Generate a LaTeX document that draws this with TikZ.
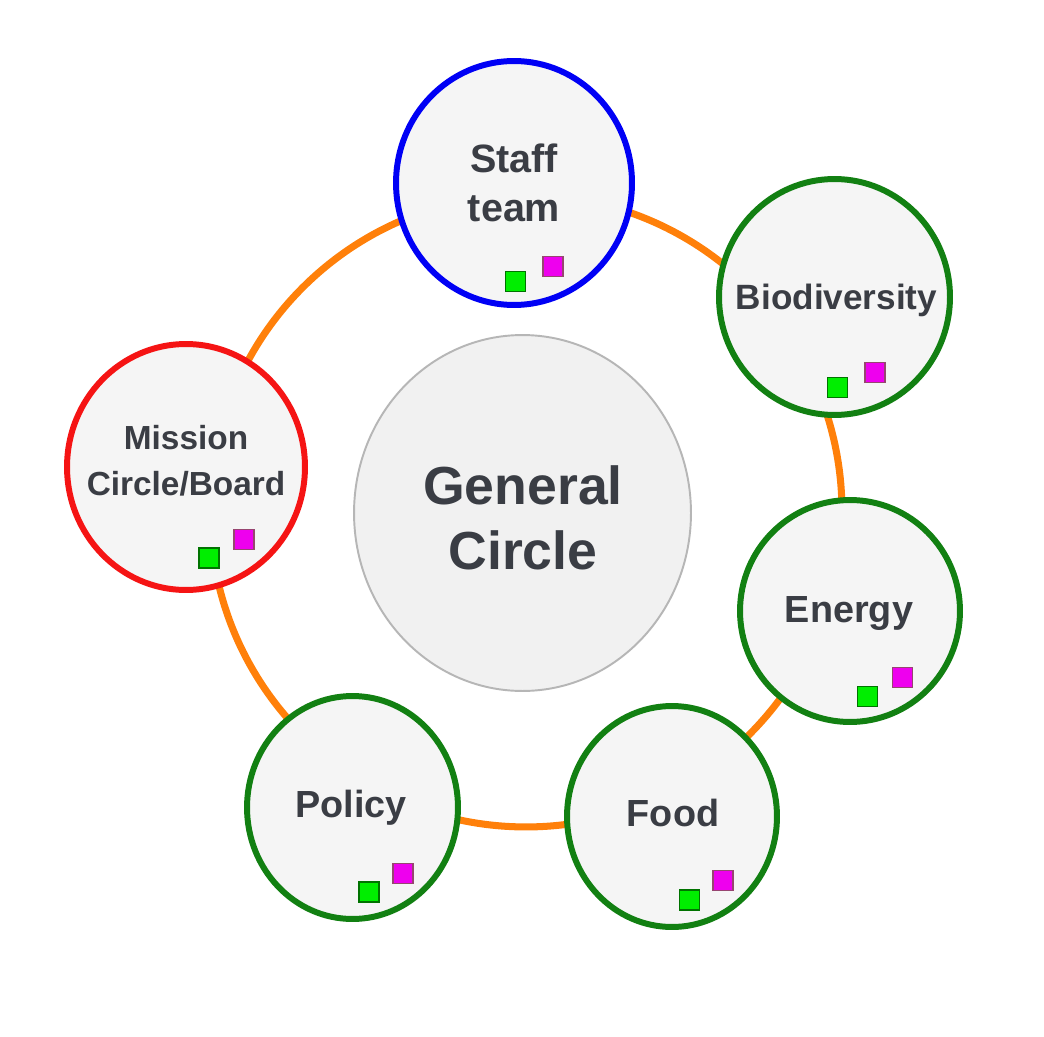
\documentclass[tikz,border=0pt]{standalone}
\usepackage{fontspec}
\setmainfont{Liberation Sans}
\usetikzlibrary{shapes.geometric}
\definecolor{ringOrange}{RGB}{255,128,10}
\definecolor{unitGreen}{RGB}{18,128,18}
\definecolor{unitBlue}{RGB}{0,0,245}
\definecolor{unitRed}{RGB}{245,20,20}
\definecolor{textGray}{RGB}{58,61,68}
\definecolor{fillGray}{RGB}{245,245,245}
\definecolor{genFill}{RGB}{241,241,241}
\definecolor{genLine}{RGB}{182,182,182}
\definecolor{tagGreen}{RGB}{0,238,0}
\definecolor{tagMagenta}{RGB}{238,0,238}

\begin{document}
\begin{tikzpicture}[x=0.02cm,y=-0.02cm,
  unit/.style={ellipse,fill=fillGray,line width=3.4pt,inner sep=0pt},
  lbl/.style={anchor=south,inner sep=0pt,text depth=0pt,align=center,text=textGray},
  sq/.style={rectangle,minimum size=0.4cm,inner sep=0pt,line width=0.6pt},
  gtag/.style={sq,fill=tagGreen,draw=green!45!black},
  mtag/.style={sq,fill=tagMagenta,draw=magenta!55!black}]
  \fill[white] (0,0) rectangle (1044,1037);
  \useasboundingbox (0,0) rectangle (1044,1037);
  % orange ring behind everything
  \coordinate (hub) at (526,511);
  \draw[ringOrange,line width=4pt] (hub) circle (6.32cm);
  % centre
  \node[ellipse,fill=genFill,draw=genLine,line width=1.1pt,
    minimum width=6.74cm,minimum height=7.12cm] (gen) at (522.5,513) {};
  \node[lbl,font={\bfseries\fontsize{30.5}{36.8}\selectfont}] (gen-t) at (523,570) {General\\Circle};
  % circles round the ring
  \node[unit,draw=unitBlue,minimum width=4.72cm,minimum height=4.88cm] (staff) at (514,183) {};
  \node[unit,draw=unitGreen,minimum width=4.62cm,minimum height=4.72cm] (bio) at (834.5,297) {};
  \node[unit,draw=unitGreen,minimum width=4.40cm,minimum height=4.44cm] (energy) at (850,611) {};
  \node[unit,draw=unitGreen,minimum width=4.20cm,minimum height=4.42cm] (food) at (672,816.5) {};
  \node[unit,draw=unitGreen,minimum width=4.22cm,minimum height=4.46cm] (policy) at (352.5,807.5) {};
  \node[unit,draw=unitRed,minimum width=4.76cm,minimum height=4.92cm] (mission) at (186,467) {};
  % names
  \node[lbl,font={\bfseries\fontsize{22.5}{27.8}\selectfont}] (staff-t) at (514,222) {Staff\\team};
  \node[lbl,font={\bfseries\fontsize{20}{24}\selectfont}] (bio-t) at (836.5,310) {Biodiversity};
  \node[lbl,font={\bfseries\fontsize{21.5}{26}\selectfont}] (energy-t) at (849,623) {Energy};
  \node[lbl,font={\bfseries\fontsize{21.5}{26}\selectfont}] (food-t) at (673,827) {Food};
  \node[lbl,font={\bfseries\fontsize{21.5}{26}\selectfont}] (policy-t) at (351,818) {Policy};
  \node[lbl,font={\bfseries\fontsize{19}{26}\selectfont}] (mission-t) at (186,496) {Mission\\Circle/Board};
  % small squares
  \foreach \n/\gx/\gy/\mx/\my in {staff/515.5/281.5/553/266.5, bio/837.5/387.5/875/372.5,
      energy/867.5/696.5/902.5/677.5, food/689.5/900/723/880.5,
      policy/369/892/403/873.5, mission/209/558/244/539.5} {
    \node[gtag] (\n-g) at (\gx,\gy) {};
    \node[mtag] (\n-m) at (\mx,\my) {};
  }
\end{tikzpicture}
\end{document}
